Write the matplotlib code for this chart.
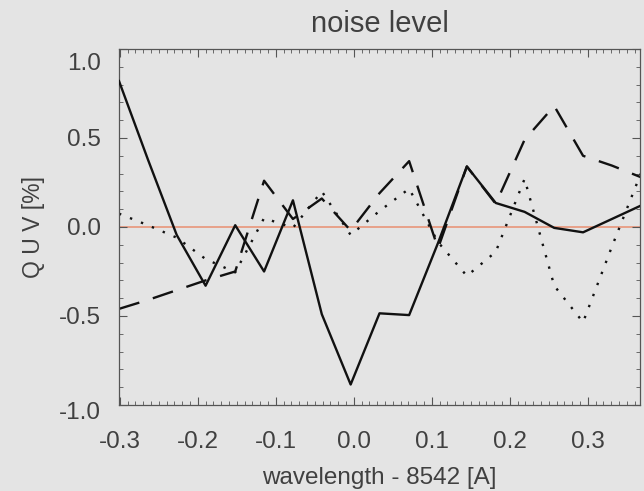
import matplotlib
matplotlib.use("Agg")
import matplotlib.pyplot as plt
import matplotlib.transforms as mtransforms
from matplotlib.ticker import MultipleLocator

# wavelength grid (offset from 8542 A)
wavelength = [-0.301, -0.264, -0.227, -0.190, -0.152, -0.115, -0.078,
              -0.041, -0.004, 0.033, 0.071, 0.108, 0.145, 0.182,
              0.219, 0.257, 0.294, 0.331, 0.368]

# noise in percent
noise_solid = [0.82, 0.38, -0.045, -0.33, 0.01, -0.25, 0.15, -0.49,
               -0.885, -0.485, -0.495, -0.09, 0.34, 0.135, 0.085,
               -0.005, -0.03, 0.045, 0.12]
noise_dotted = [0.075, 0.01, -0.06, -0.18, -0.255, 0.05, -0.005, 0.2,
                -0.045, 0.09, 0.215, -0.085, -0.275, -0.14, 0.27,
                -0.33, -0.535, -0.11, 0.3]
noise_dashed = [-0.46, -0.41, -0.355, -0.30, -0.25, 0.26, 0.045, 0.16,
                -0.02, 0.19, 0.37, -0.12, 0.34, 0.13, 0.49, 0.68, 0.40,
                0.345, 0.28]

plt.rcParams['font.family'] = ['Liberation Sans', 'DejaVu Sans']

bg = '#e4e4e4'
txt = '#404040'

fig = plt.figure(figsize=(6.44, 4.91), dpi=100, facecolor=bg)
ax = fig.add_axes([0.1848, 0.1752, 0.8090, 0.7250], facecolor=bg)

ax.axhline(0.0, color='#e8957a', lw=1.2, zorder=1)
ax.plot(wavelength, noise_solid, color='#111111', lw=1.7, zorder=3)
ax.plot(wavelength, noise_dotted, color='#111111', lw=1.7,
        dashes=(1, 4), zorder=2)
ax.plot(wavelength, noise_dashed, color='#111111', lw=1.7,
        dashes=(9, 6), zorder=2)

ax.set_xlim(-0.301, 0.367)
ax.set_ylim(-1.0, 1.0)
ax.set_xticks([-0.3, -0.2, -0.1, 0.0, 0.1, 0.2, 0.3])
ax.set_yticks([-1.0, -0.5, 0.0, 0.5, 1.0])
ax.xaxis.set_minor_locator(MultipleLocator(0.01))
ax.yaxis.set_minor_locator(MultipleLocator(0.1))
ax.xaxis.set_major_formatter(plt.FuncFormatter(lambda v, p: f"{v:.1f}"))
ax.yaxis.set_major_formatter(plt.FuncFormatter(lambda v, p: f"{v:.1f}"))

ax.tick_params(which='both', direction='in', top=True, right=True,
               color='#555555', labelcolor=txt, labelsize=17.5)
ax.tick_params(which='major', length=6, width=0.8)
ax.tick_params(which='minor', length=3, width=0.6)
ax.tick_params(axis='y', which='major', pad=13)
ax.tick_params(axis='x', which='major', pad=19)

for sp in ax.spines.values():
    sp.set_color('#555555')
    sp.set_linewidth(0.9)

ax.set_title("noise level", fontsize=21, color=txt, pad=12)
ax.set_xlabel("wavelength - 8542 [A]", fontsize=17.5, color=txt, labelpad=10)
ax.set_ylabel("Q U V [%]", fontsize=16.5, color=txt, labelpad=10)

# the end labels of the y axis sit a bit lower in the original
fig.canvas.draw()
ylabels = ax.get_yticklabels()
shift_top = mtransforms.ScaledTranslation(0, -12 / 100, fig.dpi_scale_trans)
shift_bot = mtransforms.ScaledTranslation(0, -6 / 100, fig.dpi_scale_trans)
ylabels[-1].set_transform(ylabels[-1].get_transform() + shift_top)
ylabels[0].set_transform(ylabels[0].get_transform() + shift_bot)

fig.savefig("out.png", dpi=100, facecolor=bg)
